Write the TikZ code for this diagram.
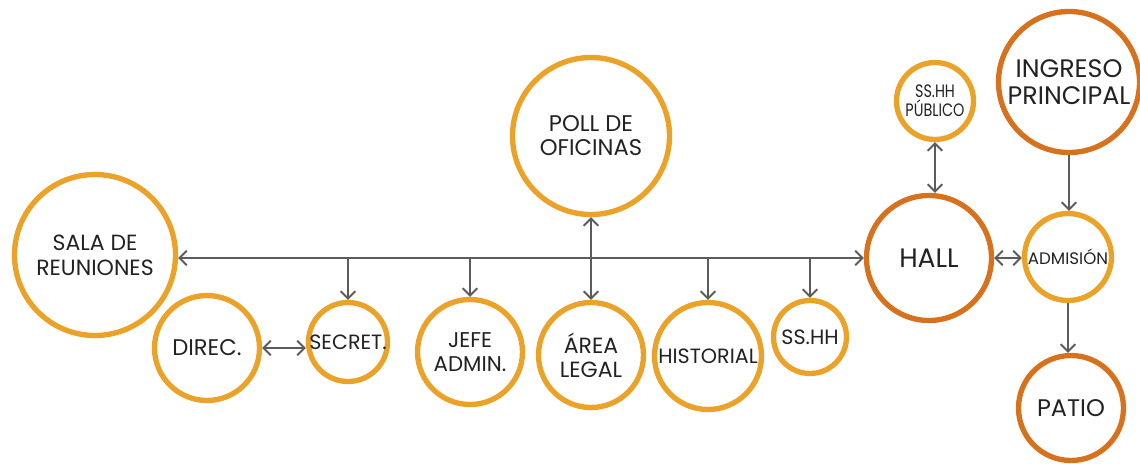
\documentclass[tikz,border=0pt]{standalone}
\usepackage{fontspec}
\setmainfont{Poppins}
\usetikzlibrary{arrows.meta}
\definecolor{lightor}{HTML}{EBA229}
\definecolor{darkor}{HTML}{D6721E}
\definecolor{conn}{HTML}{5C5C5C}
\definecolor{txt}{HTML}{222222}
\tikzset{
  ring/.style={circle, draw=lightor, line width=4pt, inner sep=0pt, align=center,
    text=txt, font=\fontsize{16.5}{18.5}\selectfont, minimum size=#1},
  dring/.style={ring=#1, draw=darkor},
  link/.style={draw=conn, line width=1.4pt},
}
\begin{document}
\begin{tikzpicture}[x=0.75pt, y=-0.75pt, >={Straight Barb[length=5.5pt,width=11pt]}]
\useasboundingbox (0,0) rectangle (1140,464);
% nodes
\node[ring=120.75pt, font=\fontsize{16.5}{19}\selectfont] (sala) at (95,255) {SALA DE\\REUNIONES};
\node[ring=78.75pt, font=\fontsize{17}{19}\selectfont] (direc) at (207,348) {DIREC.};
\node[ring=59.25pt, font=\fontsize{15.5}{18}\selectfont] (secret) at (348,342) {SECRET.};
\node[ring=117.75pt, font=\fontsize{17}{18}\selectfont] (poll) at (591,136) {POLL DE\\OFICINAS};
\node[ring=78.75pt, font=\fontsize{16}{18}\selectfont] (jefe) at (470,352) {JEFE\\ADMIN.};
\node[ring=78.75pt, font=\fontsize{16.5}{18}\selectfont] (area) at (591,355) {ÁREA\\LEGAL};
\node[ring=80.25pt, font=\fontsize{15.5}{18}\selectfont] (hist) at (708,356) {HISTORIAL};
\node[ring=54.75pt, font=\fontsize{15.5}{18}\selectfont] (sshh) at (810,337) {SS.HH};
\node[ring=57.75pt, font=\fontsize{13.5}{14}\selectfont] (sshhp) at (935,101) {\scalebox{0.8}[1]{SS.HH}\\\scalebox{0.8}[1]{PÚBLICO}};
\node[dring=93.75pt, font=\fontsize{20}{22}\selectfont] (hall) at (929,258) {HALL};
\node[dring=105.75pt, font=\fontsize{19}{20}\selectfont] (ingreso) at (1069,82) {INGRESO\\PRINCIPAL};
\node[ring=65.25pt, font=\fontsize{12.5}{14}\selectfont] (adm) at (1068,257) {ADMISIÓN};
\node[dring=78.75pt, font=\fontsize{18}{20}\selectfont] (patio) at (1071,408) {PATIO};
% main corridor
\draw[link,<->] (sala.east |- hall.west) -- (hall.west);
\coordinate (bsec) at (secret.north |- hall.west);
\coordinate (bjefe) at (jefe.north |- hall.west);
\coordinate (bhist) at (hist.north |- hall.west);
\coordinate (bsshh) at (sshh.north |- hall.west);
\draw[link,->] (bsec) -- (secret.north);
\draw[link,->] (bjefe) -- (jefe.north);
\draw[link,->] (bhist) -- (hist.north);
\draw[link,->] (bsshh) -- (sshh.north);
\draw[link,<->] (poll.south) -- (area.north);
\draw[link,<->] (direc.east) -- (secret.west |- direc.east);
\draw[link,<->] (sshhp.south) -- (sshhp.south |- hall.north);
\draw[link,<->] (hall.east) -- (adm.west |- hall.east);
\draw[link,->] (ingreso.south) -- (ingreso.south |- adm.north);
\draw[link,->] (adm.south) -- (adm.south |- patio.north);
\end{tikzpicture}
\end{document}
